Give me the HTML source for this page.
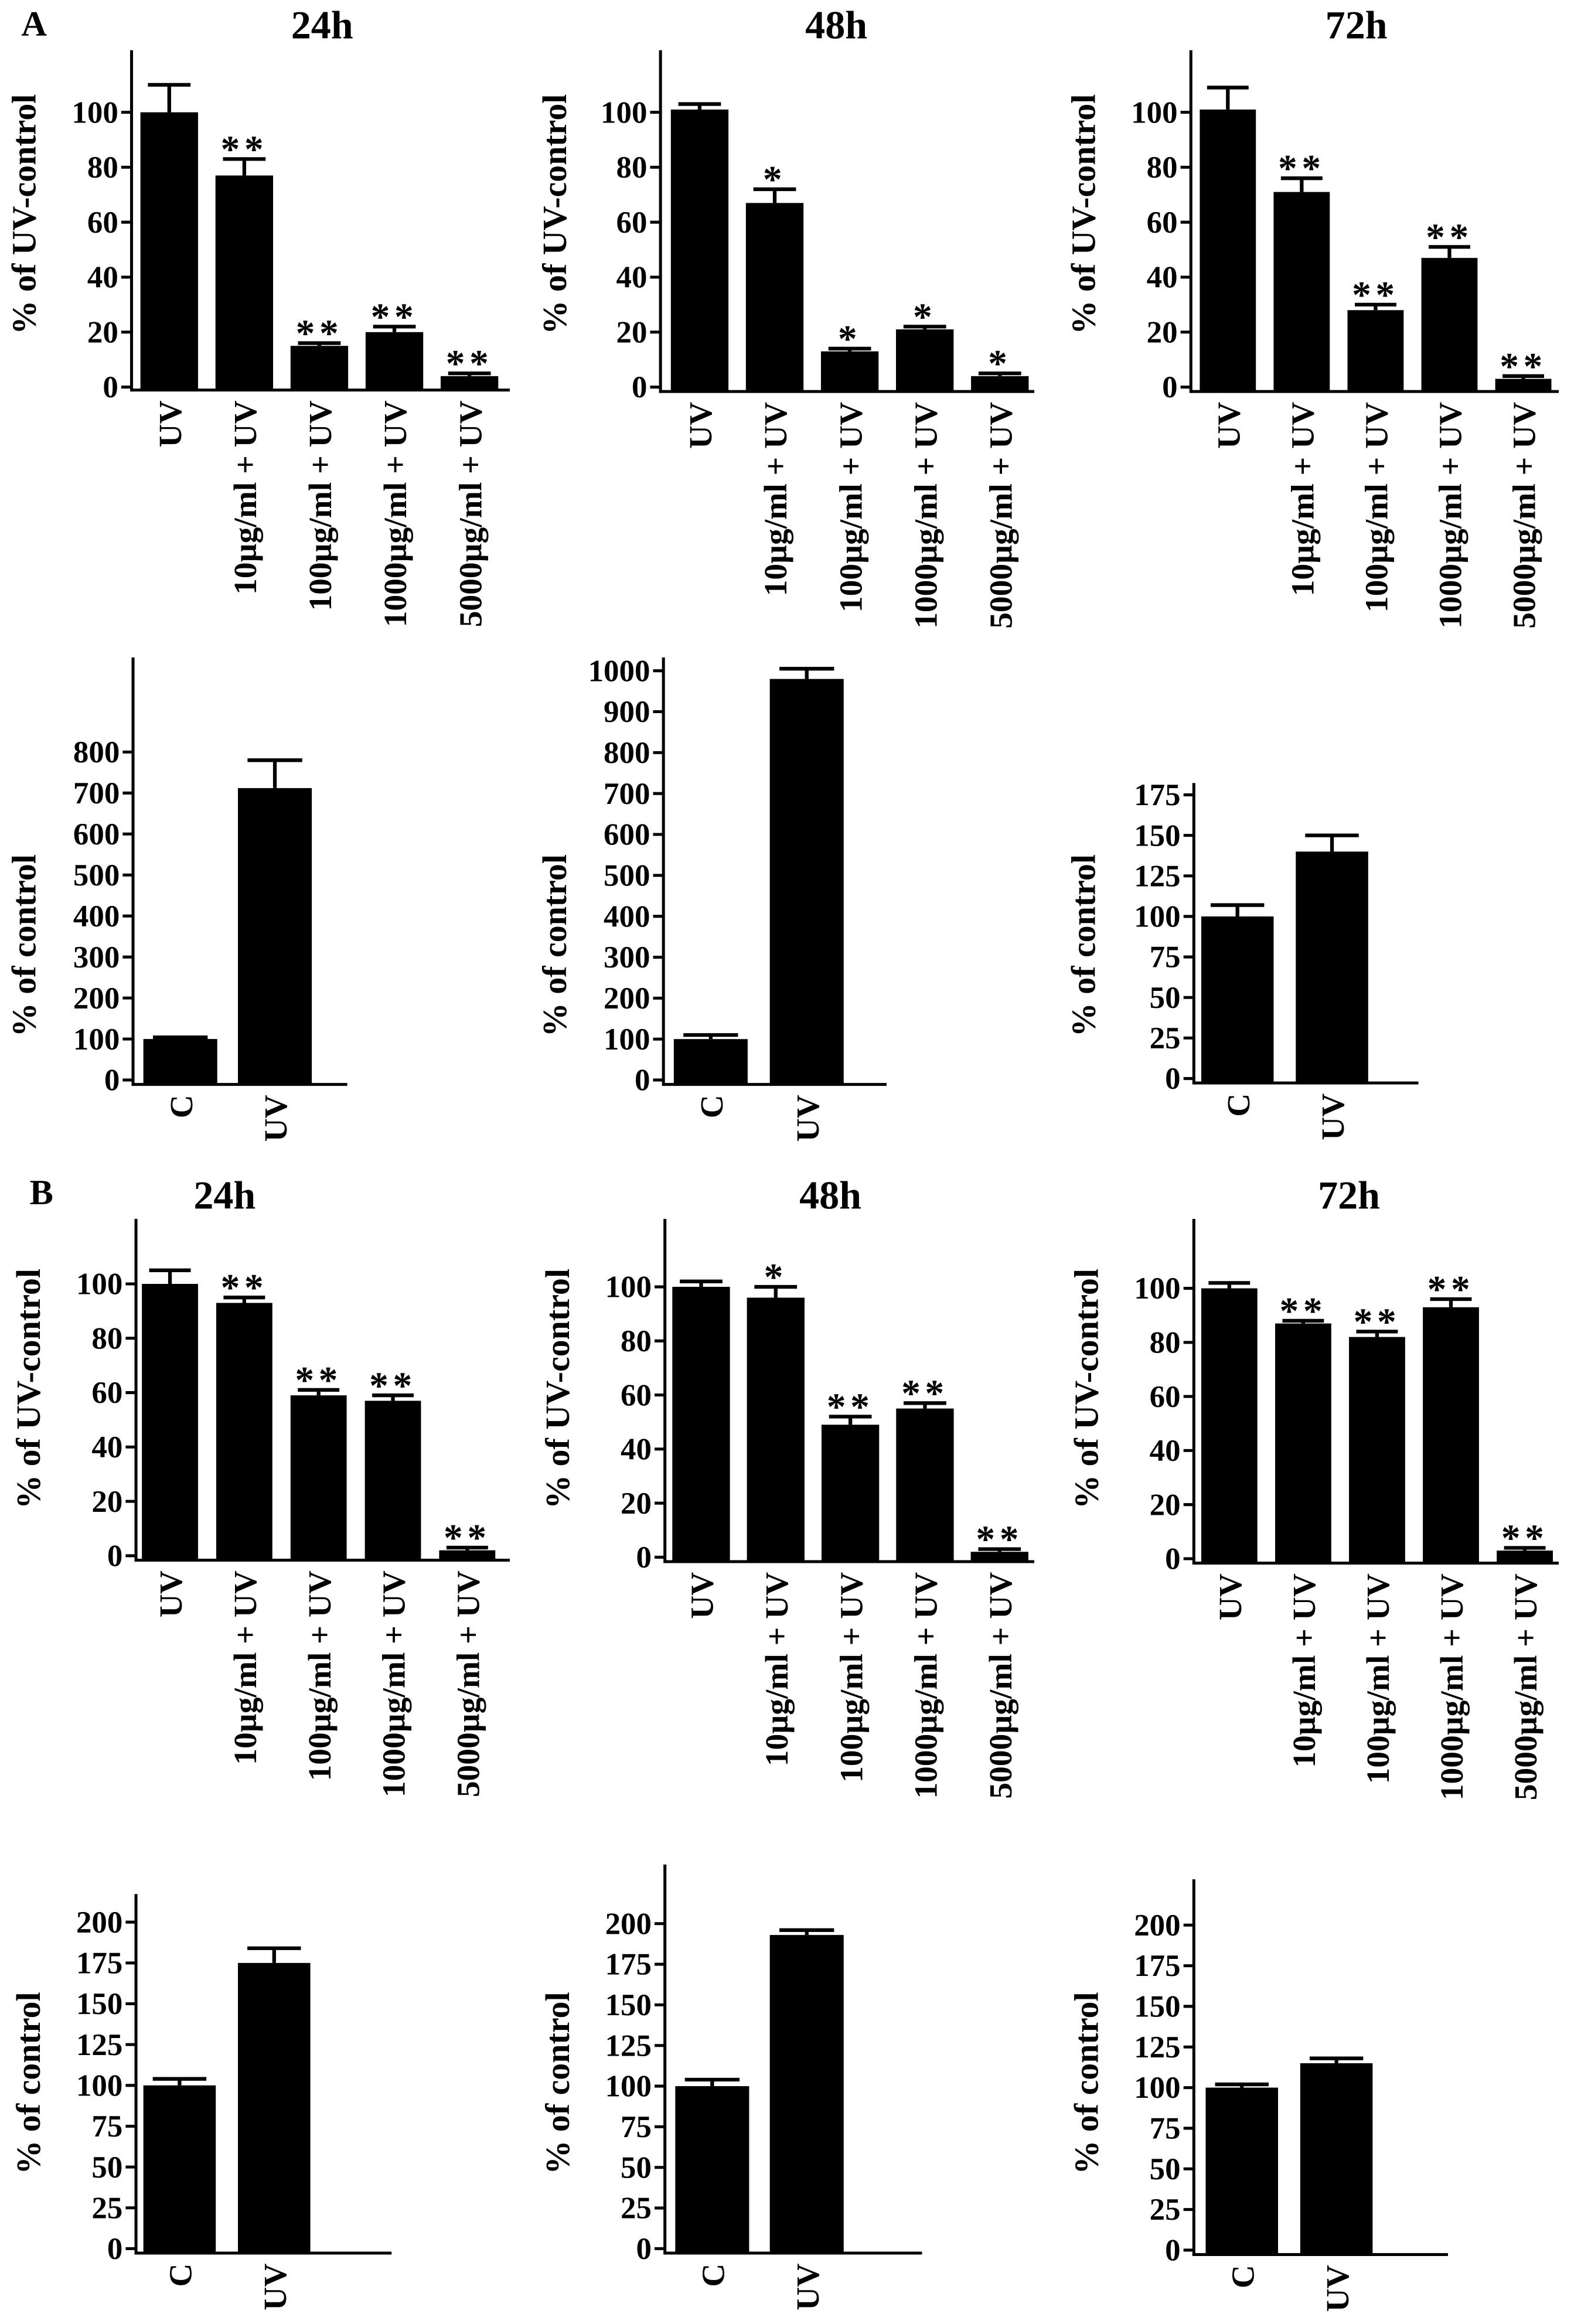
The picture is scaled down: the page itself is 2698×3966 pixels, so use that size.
<!DOCTYPE html>
<html><head><meta charset="utf-8"><style>html,body{margin:0;padding:0;background:#fff}svg{display:block}text{font-family:"Liberation Serif",serif;font-weight:bold;fill:#000}</style></head>
<body>
<svg id="fig" width="2698" height="3966" viewBox="0 0 1070 1573" xmlns="http://www.w3.org/2000/svg"></svg>
<script>
const treatLabels = ["UV","10µg/ml + UV","100µg/ml + UV","1000µg/ml + UV","5000µg/ml + UV"];
const ctrlLabels = ["C","UV"];
const a24Values=[100,77,15,20,4], a24Err=[10,6,1,2,1], a24Stars=["","**","**","**","**"];
const a48Values=[101,67,13,21,4], a48Err=[2,5,1,1,1], a48Stars=["","*","*","*","*"];
const a72Values=[101,71,28,47,3], a72Err=[8,5,2,4,1], a72Stars=["","**","**","**","**"];
const ac24Values=[100,712], ac24Err=[4,68];
const ac48Values=[100,980], ac48Err=[10,25];
const ac72Values=[100,140], ac72Err=[7,10];
const b24Values=[100,93,59,57,2], b24Err=[5,2,2,2,1], b24Stars=["","**","**","**","**"];
const b48Values=[100,96,49,55,2], b48Err=[2,4,3,2,1], b48Stars=["","*","**","**","**"];
const b72Values=[100,87,82,93,3], b72Err=[2,1,2,3,1], b72Stars=["","**","**","**","**"];
const bc24Values=[100,175], bc24Err=[4,9];
const bc48Values=[100,193], bc48Err=[4,3];
const bc72Values=[100,115], bc72Err=[2,3];
const ticks100=[0,20,40,60,80,100];
const ticks800=[0,100,200,300,400,500,600,700,800];
const ticks1000=[0,100,200,300,400,500,600,700,800,900,1000];
const ticks175=[0,25,50,75,100,125,150,175];
const ticks200=[0,25,50,75,100,125,150,175,200];

const NS="http://www.w3.org/2000/svg", svg=document.getElementById('fig');
function mk(tag,attrs,parent){const e=document.createElementNS(NS,tag);for(const k in attrs)e.setAttribute(k,attrs[k]);(parent||svg).appendChild(e);return e;}
function txt(s,attrs,parent){const t=mk('text',attrs,parent);t.textContent=s;return t;}

function panel(name,p,values,errs,stars,labels,ticks){
  const g=mk('g',{});
  
  
  const yy=v=>p.y0+(p.yTop-p.y0)*v/ticks[ticks.length-1];
  const ax=mk('line',{x1:p.ax,y1:p.axTop,x2:p.ax,y2:p.base+1,stroke:'#000','stroke-width':2},g);
  
  
  const xl=mk('line',{x1:p.ax,y1:p.base,x2:p.axEnd,y2:p.base,stroke:'#000','stroke-width':2},g);
  
  
  ticks.forEach(t=>{
    const ty=yy(t);
    mk('line',{x1:p.ax-7,y1:ty,x2:p.ax,y2:ty,stroke:'#000','stroke-width':2},g);
    const tl=txt(String(t),{x:p.ax-9,y:ty+7,'font-size':21,'text-anchor':'end'},g);
    
    
  });
  values.forEach((v,i)=>{
    const x=p.x0+i*p.step, top=yy(v), et=yy(v+errs[i]);
    const r=mk('rect',{x:x,y:top,width:p.bw,height:p.base-top,fill:'#000'},g);
    
    
    const cx=x+p.bw/2;
    mk('line',{x1:cx,y1:top,x2:cx,y2:et,stroke:'#000','stroke-width':2.5},g);
    mk('line',{x1:cx-p.bw*0.37,y1:et,x2:cx+p.bw*0.37,y2:et,stroke:'#000','stroke-width':2.5},g);
    if(stars&&stars[i]){
      const st=txt(stars[i],{x:cx,y:et+2,'font-size':26,'text-anchor':'middle','font-weight':'normal','letter-spacing':'3'},g);
      
      
    }
    const lx=cx+8, ly=p.base+7;
    const lb=txt(labels[i],{x:lx,y:ly,'font-size':22,'text-anchor':'end',transform:`rotate(-90 ${lx} ${ly})`},g);
    
    
  });
}
function title(s,x,y,size,name){const t=txt(s,{x:x,y:y,'font-size':size,'text-anchor':'middle'});}
function ytitle(s,x,y,name){const t=txt(s,{x:x,y:y,'font-size':23,'text-anchor':'middle',transform:`rotate(-90 ${x} ${y})`});}

title("A",23,24,24,'panel-a-label'); title("B",28,815,24,'panel-b-label');
title("24h",218,26,27,'title-a-24h'); title("48h",566,26,27,'title-a-48h'); title("72h",918,26,27,'title-a-72h');
title("24h",152,818,27,'title-b-24h'); title("48h",562,818,27,'title-b-48h'); title("72h",913,818,27,'title-b-72h');

ytitle("% of UV-control",24,145,'y-axis-title'); ytitle("% of UV-control",383,145,'y-axis-title'); ytitle("% of UV-control",741,145,'y-axis-title');
ytitle("% of control",24,640,'y-axis-title'); ytitle("% of control",383,640,'y-axis-title'); ytitle("% of control",741,640,'y-axis-title');
ytitle("% of UV-control",27,940,'y-axis-title'); ytitle("% of UV-control",385,940,'y-axis-title'); ytitle("% of UV-control",743,940,'y-axis-title');
ytitle("% of control",27,1410,'y-axis-title'); ytitle("% of control",385,1410,'y-axis-title'); ytitle("% of control",743,1410,'y-axis-title');

panel('chart-a-24h',{ax:89,axTop:34,axEnd:345,base:264,y0:262,yTop:76,x0:95,step:50.8,bw:39},a24Values,a24Err,a24Stars,treatLabels,ticks100);
panel('chart-a-48h',{ax:447,axTop:34,axEnd:700,base:265,y0:262,yTop:76,x0:454,step:50.8,bw:39},a48Values,a48Err,a48Stars,treatLabels,ticks100);
panel('chart-a-72h',{ax:806,axTop:34,axEnd:1055,base:265,y0:262,yTop:76,x0:812,step:50,bw:38},a72Values,a72Err,a72Stars,treatLabels,ticks100);

panel('chart-a-ctrl-24h',{ax:90,axTop:445,axEnd:235,base:734,y0:731,yTop:509,x0:97,step:64,bw:50},ac24Values,ac24Err,null,ctrlLabels,ticks800);
panel('chart-a-ctrl-48h',{ax:449,axTop:445,axEnd:600,base:734,y0:731,yTop:454,x0:456,step:65,bw:50},ac48Values,ac48Err,null,ctrlLabels,ticks1000);
panel('chart-a-ctrl-72h',{ax:808,axTop:530,axEnd:960,base:733,y0:730,yTop:538,x0:813,step:64,bw:49},ac72Values,ac72Err,null,ctrlLabels,ticks175);

panel('chart-b-24h',{ax:92,axTop:825,axEnd:345,base:1056,y0:1053,yTop:869,x0:96,step:50.3,bw:38},b24Values,b24Err,b24Stars,treatLabels,ticks100);
panel('chart-b-48h',{ax:450,axTop:825,axEnd:700,base:1057,y0:1054,yTop:871,x0:455,step:50.5,bw:39},b48Values,b48Err,b48Stars,treatLabels,ticks100);
panel('chart-b-72h',{ax:808,axTop:825,axEnd:1055,base:1058,y0:1055,yTop:872,x0:813,step:50,bw:38},b72Values,b72Err,b72Stars,treatLabels,ticks100);

panel('chart-b-ctrl-24h',{ax:92,axTop:1282,axEnd:265,base:1525,y0:1522,yTop:1301,x0:97,step:64,bw:49},bc24Values,bc24Err,null,ctrlLabels,ticks200);
panel('chart-b-ctrl-48h',{ax:450,axTop:1262,axEnd:624,base:1525,y0:1522,yTop:1302,x0:457,step:64,bw:50},bc48Values,bc48Err,null,ctrlLabels,ticks200);
panel('chart-b-ctrl-72h',{ax:808,axTop:1272,axEnd:980,base:1526,y0:1523,yTop:1303,x0:816,step:64,bw:49},bc72Values,bc72Err,null,ctrlLabels,ticks200);
</script>
</body></html>
